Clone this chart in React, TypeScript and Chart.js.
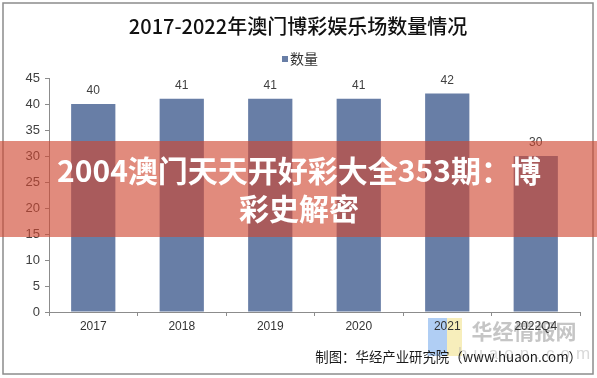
import React, { useEffect, useRef } from "react";
import { Chart, registerables } from "chart.js";

Chart.register(...registerables);

const categories = ["2017", "2018", "2019", "2020", "2021", "2022Q4"];
const values = [40, 41, 41, 41, 42, 30];
const seriesName = "数量";
const titleText = "2017-2022年澳门博彩娱乐场数量情况";
const sourceText = "制图：华经产业研究院（www.huaon.com）";
const bannerLines = ["2004澳门天天开好彩大全353期：博", "彩史解密"];
const watermarkName = "华经情报网";
const watermarkSite = "huaon.com";

const W = 597;
const H = 378;
const BAR = "#687ea6";
const SANS = "'Liberation Sans', Arial, 'Noto Sans CJK SC', sans-serif";
const CJK = "'Noto Sans CJK SC', 'Liberation Sans', sans-serif";

const decor = {
  id: "decor",
  beforeDraw(chart: any) {
    const ctx = chart.ctx;
    ctx.save();
    ctx.fillStyle = "#ffffff";
    ctx.fillRect(0, 0, W, H);
    ctx.strokeStyle = "#8c8c8c";
    ctx.lineWidth = 1.5;
    ctx.strokeRect(3, 3, 590, 371);
    // watermark logo
    ctx.fillStyle = "rgba(150,190,240,0.75)";
    ctx.fillRect(428, 318, 19, 38);
    ctx.fillStyle = "rgba(245,234,170,0.8)";
    ctx.fillRect(447, 318, 15, 38);
    ctx.fillStyle = "rgba(150,150,150,0.55)";
    ctx.font = "bold 21px " + CJK;
    ctx.textAlign = "center";
    ctx.textBaseline = "middle";
    ctx.fillText(watermarkName, 524, 331);
    ctx.fillStyle = "rgba(170,170,170,0.45)";
    ctx.font = "17px " + SANS;
    (ctx as any).letterSpacing = "6px";
    ctx.fillText(watermarkSite, 527, 354);
    (ctx as any).letterSpacing = "0px";
    // title
    ctx.fillStyle = "#111111";
    ctx.font = "500 20px " + CJK;
    ctx.fillText(titleText, 298, 26);
    // legend
    ctx.fillStyle = BAR;
    ctx.fillRect(282, 56, 6, 6);
    ctx.fillStyle = "#333333";
    ctx.font = "14px " + CJK;
    ctx.textAlign = "left";
    ctx.fillText(seriesName, 290, 59);
    // source
    ctx.textAlign = "right";
    ctx.fillStyle = "#1a1a1a";
    ctx.font = "13.4px " + CJK;
    ctx.fillText(sourceText, 582, 357);
    ctx.restore();
  },
  afterDatasetsDraw(chart: any) {
    const ctx = chart.ctx;
    const meta = chart.getDatasetMeta(0);
    ctx.save();
    ctx.fillStyle = "#404040";
    ctx.font = "12px " + SANS;
    ctx.textAlign = "center";
    ctx.textBaseline = "middle";
    meta.data.forEach((el: any, i: number) => {
      ctx.fillText(String(values[i]), el.x, el.y - 13);
    });
    ctx.restore();
  },
  afterDraw(chart: any) {
    const ctx = chart.ctx;
    ctx.save();
    ctx.fillStyle = "rgba(207,72,49,0.63)";
    ctx.fillRect(0, 141, W, 96);
    ctx.fillStyle = "#ffffff";
    ctx.font = "bold 30px " + CJK;
    ctx.textAlign = "center";
    ctx.textBaseline = "middle";
    ctx.fillText(bannerLines[0], 299, 171);
    ctx.fillText(bannerLines[1], 299, 209);
    ctx.restore();
  },
};

export default function App() {
  const ref = useRef<HTMLCanvasElement>(null);
  useEffect(() => {
    document.body.style.margin = "0";
    const chart = new Chart(ref.current!, {
      type: "bar",
      data: {
        labels: categories,
        datasets: [
          {
            label: seriesName,
            data: values,
            backgroundColor: BAR,
            categoryPercentage: 1,
            barPercentage: 0.5,
          },
        ],
      },
      options: {
        animation: false,
        responsive: true,
        maintainAspectRatio: false,
        layout: { padding: { left: 0, right: 17, top: 78, bottom: 0 } },
        plugins: {
          legend: { display: false },
          title: { display: false },
          tooltip: { enabled: false },
        },
        scales: {
          x: {
            grid: {
              display: true,
              drawOnChartArea: false,
              tickLength: 4,
              color: "#8c8c8c",
              offset: true,
            },
            border: { color: "#8c8c8c" },
            ticks: { color: "#333333", font: { size: 12, family: SANS }, padding: 3 },
            afterFit: (s: any) => {
              s.height = 66;
            },
          },
          y: {
            min: 0,
            max: 45,
            ticks: { stepSize: 5, color: "#404040", font: { size: 13, family: SANS }, padding: 5 },
            grid: { display: true, drawOnChartArea: false, tickLength: 4, color: "#8c8c8c" },
            border: { color: "#8c8c8c" },
            afterFit: (s: any) => {
              s.width = 49;
            },
          },
        },
      },
      plugins: [decor],
    });
    return () => chart.destroy();
  }, []);
  return (
    <div style={{ position: "fixed", left: 0, top: 0, width: W, height: H }}>
      <canvas ref={ref} />
    </div>
  );
}
